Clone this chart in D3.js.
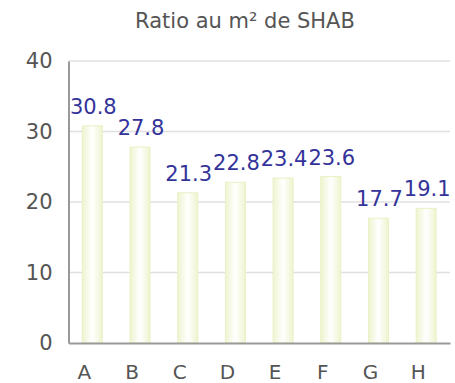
<!DOCTYPE html>
<html>
<head>
<meta charset="utf-8">
<script src="https://cdn.jsdelivr.net/npm/d3@7"></script>
<style>
  html, body { margin: 0; padding: 0; background: #fff; }
  svg { display: block; font-family: "DejaVu Sans", sans-serif; }
</style>
</head>
<body>
<svg id="chart" width="455" height="383"></svg>
<script>
// Chart data
const title = "Ratio au m² de SHAB";
const categories = ["A", "B", "C", "D", "E", "F", "G", "H"];
const values = [30.8, 27.8, 21.3, 22.8, 23.4, 23.6, 17.7, 19.1];
const yTicks = [0, 10, 20, 30, 40];

const W = 455, H = 383;
const margin = { top: 61, right: 5, bottom: 40, left: 68.5 };
const svg = d3.select("#chart");

const x = d3.scaleBand()
  .domain(categories)
  .range([margin.left, W - margin.right])
  .paddingInner(0).paddingOuter(0);

const y = d3.scaleLinear()
  .domain([0, 40])
  .range([H - margin.bottom, margin.top]);

// Bar fill: pale green edges fading to white in the middle
const defs = svg.append("defs");
const grad = defs.append("linearGradient").attr("id", "barGrad")
  .attr("x1", "0%").attr("x2", "100%").attr("y1", "0%").attr("y2", "0%");
grad.append("stop").attr("offset", "0%").attr("stop-color", "#eef4cf");
grad.append("stop").attr("offset", "50%").attr("stop-color", "#ffffff");
grad.append("stop").attr("offset", "100%").attr("stop-color", "#eef4cf");

// Title
svg.append("text")
  .attr("x", 245).attr("y", 28)
  .attr("text-anchor", "middle")
  .attr("font-size", 21)
  .attr("fill", "#555")
  .text(title);

// Horizontal grid lines
svg.append("g")
  .selectAll("line")
  .data(yTicks.filter(d => d > 0))
  .join("line")
  .attr("x1", margin.left).attr("x2", W - margin.right)
  .attr("y1", d => y(d)).attr("y2", d => y(d))
  .attr("stroke", "#e0e0e0").attr("stroke-width", 1.5);

// Y axis
const yAxis = svg.append("g")
  .attr("transform", `translate(${margin.left},0)`)
  .call(d3.axisLeft(y).tickValues(yTicks).tickSize(0).tickPadding(16));
yAxis.select(".domain").attr("stroke", "#999").attr("stroke-width", 2);
yAxis.selectAll("text").attr("font-size", 21).attr("fill", "#555")
  .attr("font-family", "DejaVu Sans, sans-serif");

// Bars
const barW = 20;
svg.append("g")
  .selectAll("rect")
  .data(values)
  .join("rect")
  .attr("x", (d, i) => x(categories[i]) + x.bandwidth() / 2 - barW / 2)
  .attr("y", d => y(d))
  .attr("width", barW)
  .attr("height", d => y(0) - y(d))
  .attr("fill", "url(#barGrad)")
  .attr("stroke", "#e9f1c4")
  .attr("stroke-width", 1);

// X axis
const xAxis = svg.append("g")
  .attr("transform", `translate(0,${y(0)})`)
  .call(d3.axisBottom(x).tickSize(0).tickPadding(22));
xAxis.select(".domain").attr("stroke", "#999").attr("stroke-width", 2);
xAxis.selectAll("text").attr("font-size", 20).attr("fill", "#555")
  .attr("dx", -8)
  .attr("font-family", "DejaVu Sans, sans-serif");

// Value labels above bars
svg.append("g")
  .selectAll("text")
  .data(values)
  .join("text")
  .attr("x", (d, i) => x(categories[i]) + x.bandwidth() / 2 + 1)
  .attr("y", d => y(d) - 12)
  .attr("text-anchor", "middle")
  .attr("font-size", 21)
  .attr("fill", "#33339a")
  .text(d => d.toFixed(1));
</script>
</body>
</html>
